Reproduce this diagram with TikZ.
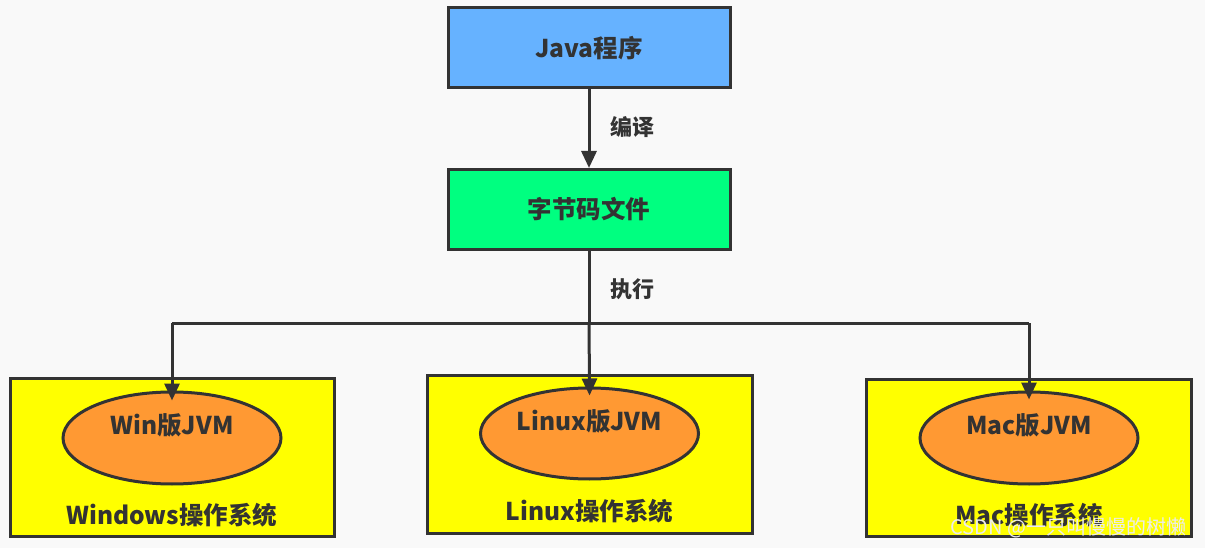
\documentclass[tikz,border=0pt]{standalone}
\usepackage{fontspec}
\setmainfont{Noto Sans CJK SC}
\usetikzlibrary{arrows.meta,shapes.geometric}
\definecolor{bg}{HTML}{F9F9F9}
\definecolor{ink}{HTML}{333333}
\definecolor{javablue}{HTML}{66B2FF}
\definecolor{codegreen}{HTML}{00FF80}
\definecolor{osyellow}{HTML}{FFFF00}
\definecolor{jvmorange}{HTML}{FF9933}
\begin{document}
\begin{tikzpicture}[x=1pt,y=-1pt,
  every node/.style={text=ink,font=\bfseries\fontsize{24.5}{28}\selectfont},
  topbox/.style={draw=ink,line width=3pt,rectangle,minimum width=282pt,minimum height=80pt,inner sep=0pt},
  osbox/.style={draw=ink,line width=3pt,rectangle,fill=osyellow,minimum width=324pt,minimum height=158pt,inner sep=0pt},
  jvm/.style={draw=ink,line width=3pt,ellipse,fill=jvmorange,minimum width=218pt,minimum height=92pt,inner sep=0pt},
  lbl/.style={font=\bfseries\fontsize{22}{26}\selectfont},
  conn/.style={draw=ink,line width=3pt,-{Triangle[length=17pt,width=15pt]}},
  wire/.style={draw=ink,line width=3pt,line join=miter}
]
\fill[bg] (0,0) rectangle (1205,548);
\useasboundingbox (0,0) rectangle (1205,548);

\node[topbox,fill=javablue] (java) at (589,48) {Java程序};
\node[topbox,fill=codegreen] (code) at (589,209.5) {字节码文件};

\node[osbox] (winos) at (172,457.5) {};
\node[osbox,minimum height=158pt,minimum width=325pt] (linos) at (589.5,454) {};
\node[osbox,minimum height=157pt,minimum width=325pt] (macos) at (1028.5,457.5) {};

\node[jvm] (winjvm) at (172,438) {};
\node[jvm,minimum height=91pt] (linjvm) at (589.5,433.5) {};
\node[jvm] (macjvm) at (1029,438) {};

\node (wint) at (172,425) {Win版JVM};
\node (lint) at (589.5,421) {Linux版JVM};
\node (mact) at (1029,425) {Mac版JVM};

\node (winost) at (172,515) {Windows操作系统};
\node (linost) at (589.5,511) {Linux操作系统};
\node (macost) at (1029,515) {Mac操作系统};

\draw[conn] (java.south) -- (code.north);
\node[lbl] (compile) at (632,127) {编译};
\node[lbl] (exec) at (632,289) {执行};

\coordinate (hub) at (589,323);
\coordinate (hubl) at (172,323);
\coordinate (hubr) at (1029,323);
\draw[wire] (code.south) -- (hub);
\draw[wire] (hubl) -- (hubr);
\draw[conn,shorten >=-10pt] (hubl) -- (winjvm.north);
\draw[conn,shorten >=-9pt] (hub) -- (linjvm.north);
\draw[conn,shorten >=-9pt] (hubr) -- (macjvm.north);

\node[font=\fontsize{20}{24}\selectfont,text=white!85!gray,anchor=east] (wm) at (1190,528) {CSDN @一只叫慢慢的树懒};
\end{tikzpicture}
\end{document}
